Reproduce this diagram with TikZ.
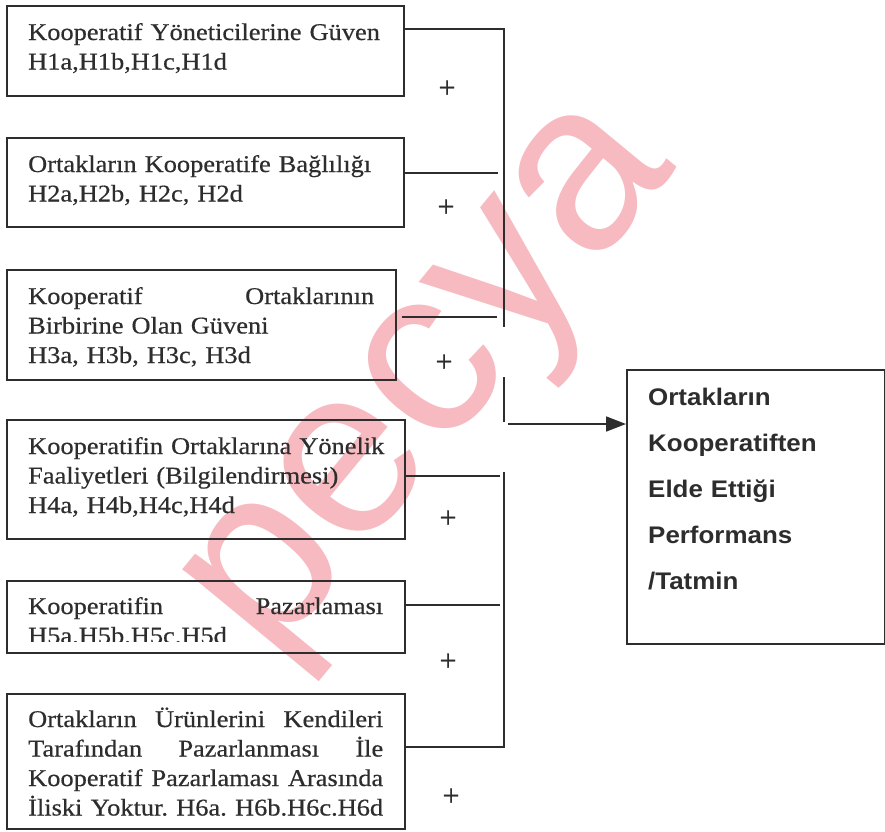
\documentclass[tikz,border=0pt]{standalone}
\usepackage{fontspec}
\setmainfont{Liberation Serif}
\newfontfamily\boxfont[FakeStretch=1.1,FakeBold=0.5]{Liberation Serif}
\newfontfamily\plusfont[FakeBold=0.8]{Liberation Serif}
\newfontfamily\rightfont[FakeStretch=1.08]{Liberation Sans}
\newfontfamily\wmfont{Liberation Sans}
\usetikzlibrary{arrows.meta,calc}
\definecolor{ink}{RGB}{45,45,45}
\definecolor{wm}{RGB}{246,186,192}
\newcommand{\fillline}[2]{\makebox[#1][s]{#2}}
\begin{document}
\begin{tikzpicture}[x=1pt,y=-1pt,
  box/.style={draw=ink, line width=1.7pt, anchor=north west, inner sep=0pt},
  txt/.style={anchor=base west, inner sep=0pt, text width=#1, align=left, text=ink,
    font=\boxfont\fontsize{24}{29.5}\selectfont},
  rtxt/.style={anchor=base west, inner sep=0pt, text width=220pt, align=left, text=ink,
    font=\rightfont\bfseries\fontsize{24}{46}\selectfont},
  link/.style={draw=ink, line width=1.7pt},
  plus/.style={text=ink, inner sep=0pt, font=\plusfont\fontsize{30}{30}\selectfont},
  wmark/.style={text=wm, inner sep=0pt, anchor=base, rotate=50.5,
    font=\wmfont\fontsize{240}{240}\selectfont}]
\useasboundingbox (0,0) rectangle (885,831);
\fill[white] (0,0) rectangle (885,831);
% watermark
\node[wmark] (wmk) at (474,415) {pecya};
% boxes
\node[box, minimum width=397pt, minimum height=90pt]  (b1) at (6,5) {};
\node[box, minimum width=397pt, minimum height=89pt]  (b2) at (6,137) {};
\node[box, minimum width=389pt, minimum height=110pt] (b3) at (6,269) {};
\node[box, minimum width=398pt, minimum height=119pt] (b4) at (6,419) {};
\node[box, minimum width=398pt, minimum height=72pt]  (b5) at (6,580) {};
\node[box, minimum width=398pt, minimum height=135pt] (b6) at (6,693) {};
\node[box, minimum width=258pt, minimum height=274pt] (R)  at (626,369) {};
% texts
\node[txt=360pt] (t1) at (28,40) {Kooperatif Yöneticilerine Güven\\H1a,H1b,H1c,H1d};
\node[txt=360pt] (t2) at (28,172) {Ortakların Kooperatife Bağlılığı\\H2a,H2b, H2c, H2d};
\node[txt=360pt] (t3) at (28,304) {\fillline{346pt}{Kooperatif\hfill Ortaklarının}\\Birbirine Olan Güveni\\H3a, H3b, H3c, H3d};
\node[txt=360pt] (t4) at (28,454) {Kooperatifin Ortaklarına Yönelik\\Faaliyetleri (Bilgilendirmesi)\\H4a, H4b,H4c,H4d};
\begin{scope}
  \clip (8,582) rectangle (402,641.5);
  \node[txt=360pt] (t5) at (28,614) {\fillline{355pt}{Kooperatifin\hfill Pazarlaması}\\H5a.H5b.H5c.H5d};
\end{scope}
\node[txt=360pt] (t6) at (28,727) {\fillline{355pt}{Ortakların\hfill Ürünlerini\hfill Kendileri}\\
  \fillline{355pt}{Tarafından\hfill Pazarlanması\hfill İle}\\
  \fillline{355pt}{Kooperatif\hfill Pazarlaması\hfill Arasında}\\
  \fillline{355pt}{İliski\hfill Yoktur.\hfill H6a.\hfill H6b.H6c.H6d}};
\node[rtxt] (rt) at (648,405) {Ortakların\\Kooperatiften\\Elde Ettiği\\Performans\\/Tatmin};
% plus signs
\node[plus] (p1) at (447,89) {+};
\node[plus] (p2) at (446,208) {+};
\node[plus] (p3) at (444,363) {+};
\node[plus] (p4) at (448,519) {+};
\node[plus] (p5) at (448,662) {+};
\node[plus] (p6) at (451,797) {+};
% connector points
\coordinate (v1top) at (504,29);
\coordinate (v1bot) at (504,327);
\coordinate (e2) at (498,173);
\coordinate (e3) at (497,317);
\coordinate (v2top) at (504,377);
\coordinate (v2bot) at (504,422);
\coordinate (a0) at (508,424);
\coordinate (v3top) at (504,472);
\coordinate (v3bot) at (504,747);
\coordinate (e4) at (500,476);
\coordinate (e5) at (500,605);
% connectors
\draw[link] (b1.east |- v1top) -- (v1top) -- (v1bot);
\draw[link] (b2.east |- e2) -- (e2);
\draw[link] ($(b3.east |- e3)+(5,0)$) -- (e3);
\draw[link] (v2top) -- (v2bot);
\draw[link, -{Triangle[length=20pt,width=15pt]}] (a0) -- (a0 -| R.west);
\draw[link] (v3top) -- (v3bot) -- (b6.east |- v3bot);
\draw[link] (b4.east |- e4) -- (e4);
\draw[link] (b5.east |- e5) -- (e5);
\end{tikzpicture}
\end{document}
